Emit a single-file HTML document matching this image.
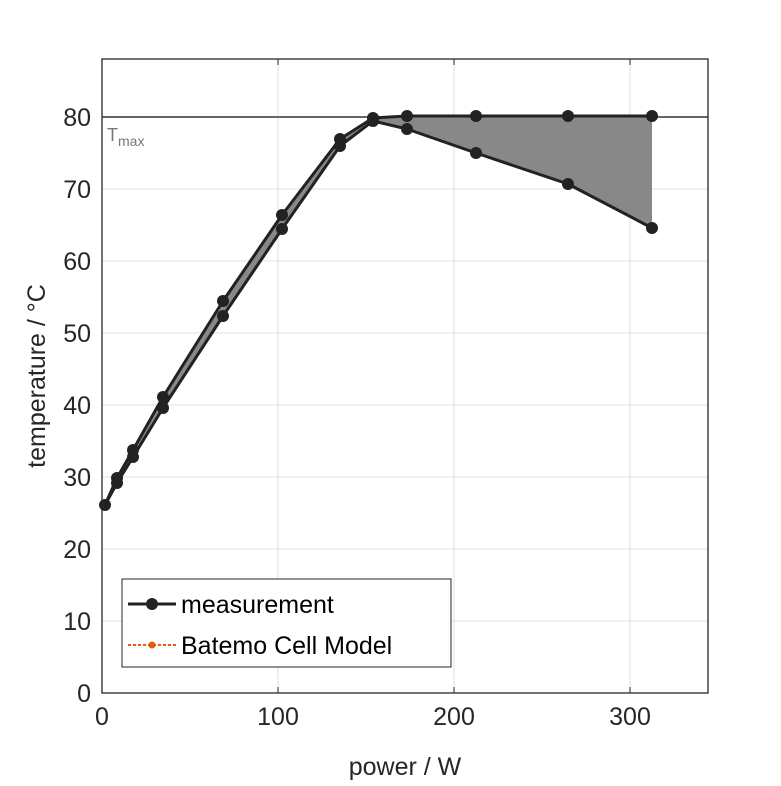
<!DOCTYPE html>
<html><head><style>body{margin:0;background:#fff}</style></head><body>
<svg width="781" height="781" xmlns="http://www.w3.org/2000/svg" font-family="Liberation Sans, sans-serif">
<rect width="781" height="781" fill="#fff"/>
<g stroke="#dfdfdf" stroke-width="1">
<line x1="278" y1="59" x2="278" y2="693"/><line x1="454" y1="59" x2="454" y2="693"/><line x1="630" y1="59" x2="630" y2="693"/>
<line x1="102" y1="621" x2="708" y2="621"/><line x1="102" y1="549" x2="708" y2="549"/><line x1="102" y1="477" x2="708" y2="477"/><line x1="102" y1="405" x2="708" y2="405"/><line x1="102" y1="333" x2="708" y2="333"/><line x1="102" y1="261" x2="708" y2="261"/><line x1="102" y1="189" x2="708" y2="189"/>
</g>
<line x1="102" y1="117" x2="708" y2="117" stroke="#666" stroke-width="2"/>
<text x="107" y="141" font-size="18" fill="#777">T<tspan font-size="14" dy="5">max</tspan></text>
<polygon fill="#888" points="105,505 117,478 133,450 163,397 223,301 282,215 340,139 373,118 407,116 476,116 568,116 652,116 652,228 568,184 476,153 407,129 373,121 340,146 282,229 223,316 163,408 133,457 117,483"/>
<g fill="none" stroke="#222" stroke-width="3" stroke-linejoin="round">
<polyline points="105,505 117,478 133,450 163,397 223,301 282,215 340,139 373,118 407,116 476,116 568,116 652,116"/>
<polyline points="105,505 117,483 133,457 163,408 223,316 282,229 340,146 373,121 407,129 476,153 568,184 652,228"/>
</g>
<g fill="#222">
<circle cx="105" cy="505" r="6"/><circle cx="117" cy="478" r="6"/><circle cx="133" cy="450" r="6"/><circle cx="163" cy="397" r="6"/><circle cx="223" cy="301" r="6"/><circle cx="282" cy="215" r="6"/><circle cx="340" cy="139" r="6"/><circle cx="373" cy="118" r="6"/><circle cx="407" cy="116" r="6"/><circle cx="476" cy="116" r="6"/><circle cx="568" cy="116" r="6"/><circle cx="652" cy="116" r="6"/>
<circle cx="117" cy="483" r="6"/><circle cx="133" cy="457" r="6"/><circle cx="163" cy="408" r="6"/><circle cx="223" cy="316" r="6"/><circle cx="282" cy="229" r="6"/><circle cx="340" cy="146" r="6"/><circle cx="373" cy="121" r="6"/><circle cx="407" cy="129" r="6"/><circle cx="476" cy="153" r="6"/><circle cx="568" cy="184" r="6"/><circle cx="652" cy="228" r="6"/>
</g>
<rect x="102" y="59" width="606" height="634" fill="none" stroke="#262626" stroke-width="1.3"/>
<g stroke="#262626" stroke-width="1">
<line x1="278" y1="693" x2="278" y2="687"/><line x1="454" y1="693" x2="454" y2="687"/><line x1="630" y1="693" x2="630" y2="687"/>
<line x1="278" y1="59" x2="278" y2="65"/><line x1="454" y1="59" x2="454" y2="65"/><line x1="630" y1="59" x2="630" y2="65"/>
</g>
<g font-size="25" fill="#262626" text-anchor="middle">
<text x="102" y="725">0</text><text x="278" y="725">100</text><text x="454" y="725">200</text><text x="630" y="725">300</text>
<text x="405" y="775">power / W</text>
</g>
<g font-size="25" fill="#262626" text-anchor="end">
<text x="91" y="702">0</text><text x="91" y="630">10</text><text x="91" y="558">20</text><text x="91" y="486">30</text><text x="91" y="414">40</text><text x="91" y="342">50</text><text x="91" y="270">60</text><text x="91" y="198">70</text><text x="91" y="126">80</text>
</g>
<text transform="translate(45,376) rotate(-90)" font-size="25" fill="#262626" text-anchor="middle">temperature / °C</text>
<rect x="122" y="579" width="329" height="88" fill="#fff" stroke="#262626" stroke-width="1"/>
<line x1="128" y1="604" x2="176" y2="604" stroke="#222" stroke-width="3"/><circle cx="152" cy="604" r="6" fill="#222"/>
<line x1="128" y1="645" x2="176" y2="645" stroke="#e8590c" stroke-width="2" stroke-dasharray="3,2"/><circle cx="152" cy="645" r="3.5" fill="#e8590c"/>
<text x="181" y="613" font-size="25" fill="#000">measurement</text>
<text x="181" y="654" font-size="25" fill="#000">Batemo Cell Model</text>
</svg>
</body></html>
